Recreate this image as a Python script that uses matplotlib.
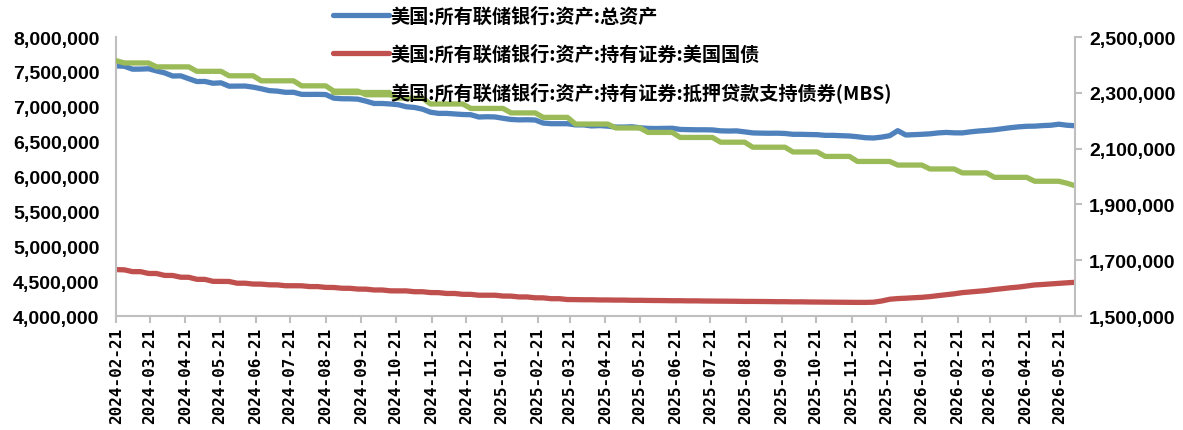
import matplotlib
matplotlib.use("Agg")
import matplotlib.pyplot as plt
import matplotlib.dates as mdates
from matplotlib.ticker import FuncFormatter
import pandas as pd

# fechas semanales (miercoles) 2024-02-21 .. 2026-06-03
fecha_inicio = "2024-02-21"
num_semanas = 120

total_activos = [
    7585000, 7581000, 7539000, 7540000, 7545000, 7514000, 7486000, 7441000, 7443000, 7402000,
    7362000, 7363000, 7337000, 7343000, 7295000, 7296000, 7297000, 7281000, 7258000, 7231000,
    7224000, 7207000, 7208000, 7178000, 7177000, 7178000, 7175000, 7123000, 7115000, 7114000,
    7109000, 7080000, 7047000, 7047000, 7040000, 7029000, 7000000, 6990000, 6966000, 6922000,
    6905000, 6905000, 6897000, 6889000, 6886000, 6853000, 6857000, 6854000, 6835000, 6818000,
    6812000, 6814000, 6810000, 6766000, 6757000, 6757000, 6757000, 6740000, 6740000, 6725000,
    6730000, 6722000, 6709000, 6709000, 6713000, 6699000, 6690000, 6688000, 6690000, 6692000,
    6675000, 6672000, 6670000, 6670000, 6668000, 6655000, 6652000, 6654000, 6640000, 6625000,
    6622000, 6620000, 6621000, 6617000, 6605000, 6605000, 6602000, 6600000, 6590000, 6590000,
    6585000, 6581000, 6570000, 6556000, 6552000, 6565000, 6585000, 6657000, 6595000, 6600000,
    6605000, 6612000, 6625000, 6632000, 6626000, 6625000, 6640000, 6652000, 6660000, 6670000,
    6685000, 6700000, 6712000, 6720000, 6722000, 6730000, 6735000, 6750000, 6735000, 6728000,
]

bonos_tesoro = [
    4665000, 4662000, 4636000, 4636000, 4610000, 4609000, 4582000, 4581000, 4556000, 4555000,
    4526000, 4525000, 4497000, 4496000, 4495000, 4470000, 4470000, 4458000, 4457000, 4447000,
    4446000, 4434000, 4434000, 4433000, 4422000, 4422000, 4410000, 4409000, 4398000, 4397000,
    4386000, 4385000, 4373000, 4373000, 4361000, 4360000, 4360000, 4348000, 4348000, 4336000,
    4335000, 4323000, 4323000, 4311000, 4310000, 4298000, 4298000, 4298000, 4286000, 4285000,
    4273000, 4273000, 4261000, 4260000, 4248000, 4248000, 4236000, 4235000, 4233000, 4233000,
    4230000, 4230000, 4228000, 4228000, 4225000, 4225000, 4223000, 4222000, 4221000, 4219000,
    4219000, 4217000, 4217000, 4215000, 4214000, 4213000, 4212000, 4211000, 4209000, 4209000,
    4208000, 4207000, 4205000, 4205000, 4203000, 4203000, 4201000, 4200000, 4199000, 4198000,
    4197000, 4196000, 4195000, 4195000, 4198000, 4215000, 4240000, 4250000, 4255000, 4262000,
    4268000, 4278000, 4292000, 4305000, 4318000, 4335000, 4345000, 4355000, 4365000, 4380000,
    4392000, 4405000, 4415000, 4430000, 4445000, 4452000, 4460000, 4468000, 4476000, 4483000,
]

mbs = [
    2415000, 2407000, 2407000, 2407000, 2407000, 2393000, 2393000, 2393000, 2393000, 2393000,
    2377000, 2377000, 2377000, 2377000, 2361000, 2361000, 2361000, 2361000, 2343000, 2343000,
    2343000, 2343000, 2343000, 2325000, 2325000, 2325000, 2325000, 2306000, 2306000, 2306000,
    2306000, 2293000, 2293000, 2293000, 2293000, 2281000, 2281000, 2281000, 2281000, 2260000,
    2260000, 2260000, 2260000, 2260000, 2244000, 2244000, 2244000, 2244000, 2244000, 2228000,
    2228000, 2228000, 2228000, 2212000, 2212000, 2212000, 2212000, 2188000, 2188000, 2188000,
    2188000, 2188000, 2174000, 2174000, 2174000, 2174000, 2158000, 2158000, 2158000, 2158000,
    2140000, 2140000, 2140000, 2140000, 2140000, 2123000, 2123000, 2123000, 2123000, 2105000,
    2105000, 2105000, 2105000, 2105000, 2088000, 2088000, 2088000, 2088000, 2072000, 2072000,
    2072000, 2072000, 2054000, 2054000, 2054000, 2054000, 2054000, 2041000, 2041000, 2041000,
    2041000, 2027000, 2027000, 2027000, 2027000, 2013000, 2013000, 2013000, 2013000, 1997000,
    1997000, 1997000, 1997000, 1997000, 1983000, 1983000, 1983000, 1983000, 1976000, 1967000,
]

etiquetas = [
    "美国:所有联储银行:资产:总资产",
    "美国:所有联储银行:资产:持有证券:美国国债",
    "美国:所有联储银行:资产:持有证券:抵押贷款支持债券(MBS)",
]
colores = ["#4F81BD", "#C0504D", "#9BBB59"]

fechas = pd.date_range(fecha_inicio, periods=num_semanas, freq="7D")
fechas_ticks = pd.date_range("2024-02-01", "2026-05-01", freq="MS") + pd.Timedelta(days=20)

gris = "#BFBFBF"
fuente_num = "Liberation Sans"

fig = plt.figure(figsize=(11.83, 4.31), dpi=100)
ax = fig.add_axes([0.0983, 0.2645, 0.8104, 0.6473])
ax2 = ax.twinx()

l1, = ax.plot(fechas, total_activos, color=colores[0], linewidth=3.8, solid_capstyle="round")
l2, = ax.plot(fechas, bonos_tesoro, color=colores[1], linewidth=3.8, solid_capstyle="round")
l3, = ax2.plot(fechas, mbs, color=colores[2], linewidth=3.8, solid_capstyle="round")

ax.set_ylim(4000000, 8000000)
ax.set_yticks(range(4000000, 8000001, 500000))
ax2.set_ylim(1500000, 2500000)
ax2.set_yticks(range(1500000, 2500001, 200000))
ax.set_xlim(fechas[0], fechas[-1])

fmt = FuncFormatter(lambda v, p: f"{v:,.0f}")
ax.yaxis.set_major_formatter(fmt)
ax2.yaxis.set_major_formatter(fmt)

ax.set_xticks(fechas_ticks)
ax.xaxis.set_major_formatter(mdates.DateFormatter("%Y-%m-%d"))

for a in (ax, ax2):
    for s in a.spines.values():
        s.set_color(gris)
        s.set_linewidth(1.5)
    a.spines["top"].set_visible(False)
ax.spines["right"].set_visible(False)
ax2.spines["left"].set_visible(False)
ax2.spines["bottom"].set_visible(False)

ax.tick_params(axis="y", length=0, pad=12)
ax2.tick_params(axis="y", length=5, width=1.5, color=gris, direction="out", pad=5)
ax.tick_params(axis="x", length=5, width=1.5, color=gris, direction="out", pad=3)

for t in ax.get_yticklabels() + ax2.get_yticklabels():
    t.set_fontfamily(fuente_num)
    t.set_fontweight("bold")
    t.set_fontsize(14)
for t in ax.get_xticklabels():
    t.set_fontfamily("DejaVu Sans Mono")
    t.set_fontweight("bold")
    t.set_fontsize(11.5)
    t.set_rotation(90)

fig.legend([l1, l2, l3], etiquetas, loc="upper left", bbox_to_anchor=(333 / 1183, 1 - 7.5 / 431),
           frameon=False, borderpad=0, borderaxespad=0, handlelength=2.9, handletextpad=0.1,
           labelspacing=0.95,
           prop={"family": ["Noto Sans CJK SC", "DejaVu Sans"], "weight": "bold", "size": 13.8})

plt.savefig("out.png", dpi=100)
plt.close()
